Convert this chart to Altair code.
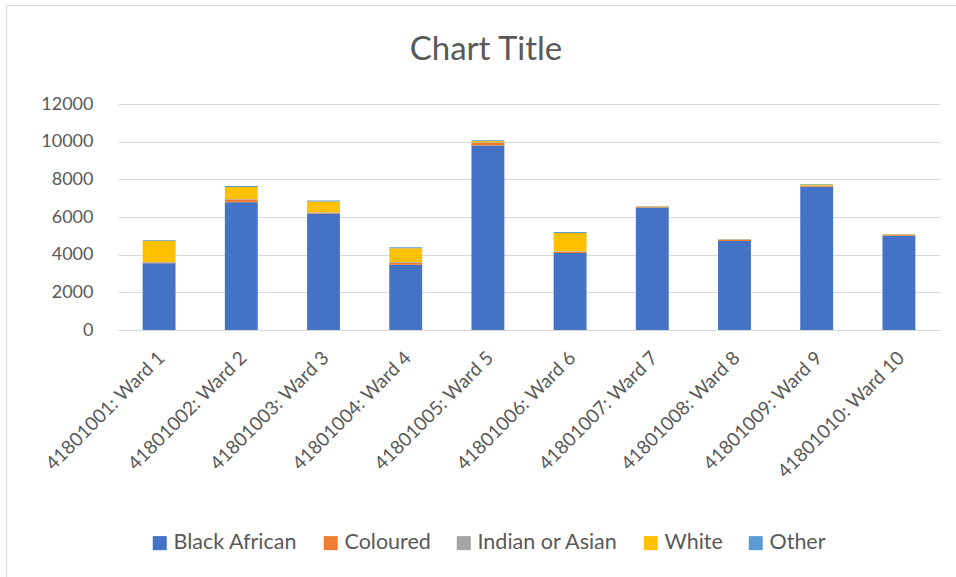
import altair as alt
import pandas as pd

wards = [f"4180100{i}: Ward {i}" for i in range(1, 10)] + ["41801010: Ward 10"]
groups = ["Black African", "Coloured", "Indian or Asian", "White", "Other"]
colors = ["#4472C4", "#ED7D31", "#A5A5A5", "#FFC000", "#5B9BD5"]

black_african = [3540, 6780, 6180, 3470, 9790, 4090, 6500, 4730, 7590, 5010]
coloured = [30, 150, 40, 100, 150, 70, 30, 50, 40, 30]
indian_asian = [40, 30, 30, 40, 30, 20, 20, 20, 30, 20]
white = [1130, 630, 570, 730, 60, 970, 20, 20, 70, 20]
other = [35, 50, 50, 60, 50, 50, 20, 15, 20, 15]

title_text = ["Chart Title"]

series = [black_african, coloured, indian_asian, white, other]
rows = []
for gi, (g, vals) in enumerate(zip(groups, series)):
    for w, v in zip(wards, vals):
        rows.append({"ward": w, "group": g, "value": v, "idx": gi})
df = pd.DataFrame(rows)

FONT = "Lato"
TXT = "#595959"
GRID = "#D9D9D9"
W, H = 822, 226

bars = alt.Chart(df).mark_bar().encode(
    x=alt.X("ward:N", sort=wards, title=None,
            scale=alt.Scale(paddingInner=0.6, paddingOuter=0.3),
            axis=alt.Axis(labelAngle=-45, ticks=False, domainColor=GRID,
                          labelFontSize=19, labelColor=TXT, labelFont=FONT,
                          labelPadding=18, labelOffset=-4)),
    y=alt.Y("value:Q", title=None,
            scale=alt.Scale(domain=[0, 12000]),
            axis=alt.Axis(values=[0, 2000, 4000, 6000, 8000, 10000, 12000],
                          format="d", domain=False, ticks=False, gridColor=GRID,
                          labelFontSize=18, labelColor=TXT, labelFont=FONT,
                          labelPadding=25)),
    color=alt.Color("group:N", sort=groups,
                    scale=alt.Scale(domain=groups, range=colors),
                    legend=alt.Legend(title=None, orient="none", direction="horizontal",
                                      legendX=31, legendY=428, columns=5,
                                      symbolType="square", symbolSize=196,
                                      symbolStrokeWidth=0, labelFontSize=21.5,
                                      labelColor=TXT, labelFont=FONT,
                                      labelOffset=3, columnPadding=22)),
    order=alt.Order("idx:Q", sort="ascending"),
)

border = alt.Chart(pd.DataFrame({"a": [0]})).mark_rect(
    fillOpacity=0, stroke=GRID, strokeWidth=1
).encode(
    x=alt.value(-111.5), x2=alt.value(W + 40),
    y=alt.value(-98.5), y2=alt.value(H + 280),
)

title = alt.Chart(pd.DataFrame({"t": title_text})).mark_text(
    font=FONT, fontSize=33, color=TXT, align="center", baseline="alphabetic"
).encode(
    text="t:N", x=alt.value(368), y=alt.value(-44),
)

chart = alt.layer(border, bars, title).properties(
    width=W, height=H,
    padding={"left": 118, "top": 104, "right": 16, "bottom": 247},
    autosize=alt.AutoSizeParams(type="none"),
).configure(background="white", view=alt.ViewConfig(stroke=None))

chart.save("out.html", embed_options={"renderer": "svg", "actions": False})
